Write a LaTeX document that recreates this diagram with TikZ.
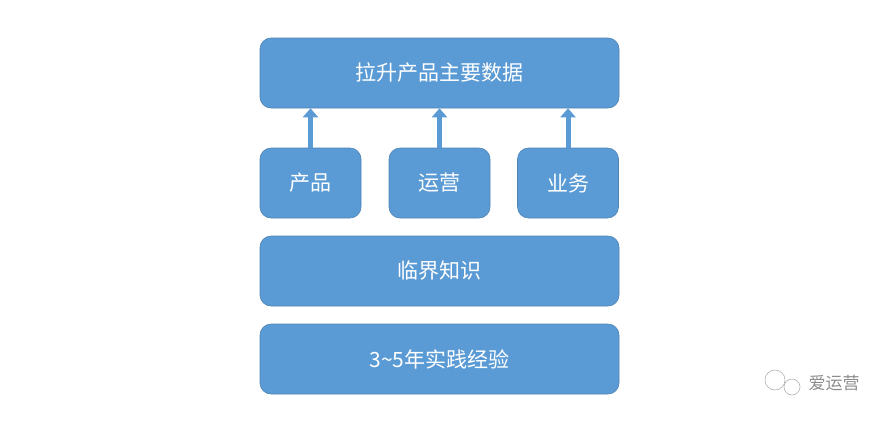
\documentclass[tikz,border=0pt]{standalone}
\usepackage{fontspec}
\newfontfamily\cjk{Noto Sans CJK SC}
\usetikzlibrary{arrows.meta}
\definecolor{boxblue}{HTML}{5B9BD5}
\tikzset{
  blk/.style={fill=boxblue, draw=boxblue!85!black, line width=0.6pt, rounded corners=11pt, text=white, font=\cjk\fontsize{21}{24}\selectfont, inner sep=0pt},
  uparrow/.style={draw=boxblue, line width=5pt, -{Triangle[width=15pt,length=9pt]}}
}
\begin{document}
\begin{tikzpicture}[x=1pt,y=-1pt]
\useasboundingbox (0,0) rectangle (896,424);
\fill[white] (0,0) rectangle (896,424);
\node[blk, minimum width=359pt, minimum height=70pt] (top) at (439.5,73) {拉升产品主要数据};
\node[blk, minimum width=101pt, minimum height=70pt] (p) at (310.5,183) {产品};
\node[blk, minimum width=101pt, minimum height=70pt] (o) at (439.5,183) {运营};
\node[blk, minimum width=101pt, minimum height=70pt] (b) at (568,183) {业务};
\node[blk, minimum width=359pt, minimum height=70pt] (k) at (439.5,271) {临界知识};
\node[blk, minimum width=359pt, minimum height=70pt] (e) at (439.5,359) {3\textasciitilde5年实践经验};
\draw[uparrow] (p.north) -- (p.north |- top.south);
\draw[uparrow] (o.north) -- (o.north |- top.south);
\draw[uparrow] (b.north) -- (b.north |- top.south);
\node[font=\cjk\fontsize{17}{20}\selectfont, text=black!45] (wm) at (834,383) {爱运营};
\draw[black!30, line width=0.6pt] (775,380) circle (10pt);
\draw[black!30, line width=0.6pt] (792,387) circle (8pt);
\end{tikzpicture}
\end{document}
